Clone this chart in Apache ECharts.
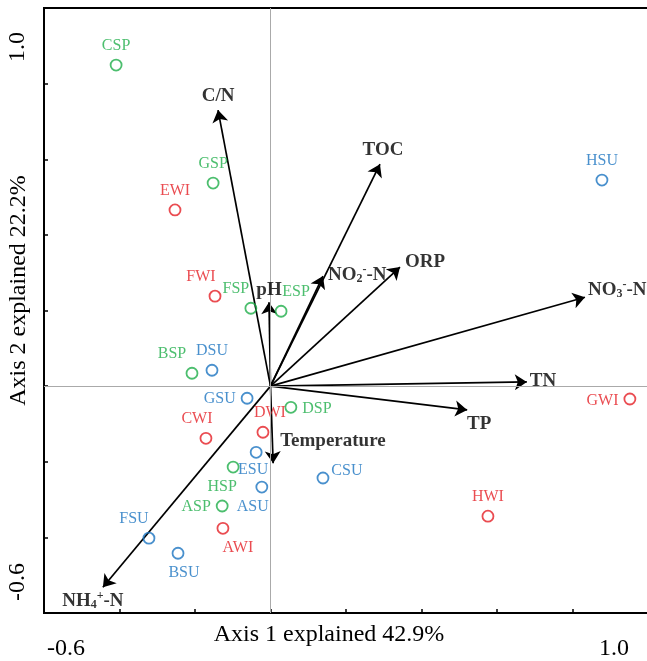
<!DOCTYPE html>
<html><head><meta charset="utf-8">
<script src="https://cdn.jsdelivr.net/npm/echarts@6/dist/echarts.min.js"></script>
<style>html,body{margin:0;padding:0;background:#fff}#c{width:647px;height:661px}</style>
</head><body><div id="c"></div>
<script>
// ---- data ----
const siteNames = ['CSP','GSP','EWI','FWI','FSP','ESP','BSP','DSU','HSU','GWI','GSU','DSP','CWI','DWI','ESU','HSP','ASP','ASU','AWI','CSU','FSU','BSU','HWI'];
const siteX = [-0.409,-0.152,-0.253,-0.147,-0.052,0.028,-0.208,-0.155,0.878,0.952,-0.062,0.054,-0.171,-0.020,-0.038,-0.099,-0.128,-0.023,-0.126,0.139,-0.322,-0.245,0.576];
const siteY = [0.849,0.537,0.466,0.238,0.206,0.198,0.034,0.042,0.545,-0.034,-0.032,-0.056,-0.138,-0.122,-0.175,-0.214,-0.317,-0.267,-0.376,-0.243,-0.402,-0.442,-0.344];
const siteGroup = ['SP','SP','WI','WI','SP','SP','SP','SU','SU','WI','SU','SP','WI','WI','SU','SP','SP','SU','WI','SU','SU','SU','WI'];
const groups = ['SP','WI','SU'];

const envNames = ['C/N','TOC','ORP','NO2-N','pH','NO3-N','TN','TP','Temperature','NH4-N'];
const envX = [-0.139,0.290,0.343,0.139,-0.004,0.833,0.679,0.521,0.007,-0.444];
const envY = [0.730,0.587,0.315,0.291,0.222,0.235,0.011,-0.063,-0.204,-0.532];

const axisMin = -0.6, axisMax = 1.0, axisStep = 0.2;
const xTickLabels = ['-0.6','1.0'];
const yTickLabels = ['-0.6','1.0'];
const xTitle = 'Axis 1 explained 42.9%';
const yTitle = 'Axis 2 explained 22.2%';

// ---- styles ----
const FONT = "'Liberation Serif','Times New Roman',serif";
const groupColor = {SP:'#1fae4a', WI:'#e51f25', SU:'#1c74c0'};
const siteLabelPlace = {
  CSP:['top',0,0], GSP:['top',0,0], EWI:['top',0,0], FWI:['top',-14,0], FSP:['top',-15,0],
  ESP:['top',15,0], BSP:['top',-20,0], DSU:['top',0,0], HSU:['top',0,0], GWI:['left',0,2],
  GSU:['left',0,1], DSP:['right',0,1], CWI:['top',-9,0], DWI:['top',7,0], ESU:['bottom',-3,-2],
  HSP:['bottom',-11,0], ASP:['left',0,1], ASU:['bottom',-9,0], AWI:['bottom',15,0],
  CSU:['right',-3,-7], FSU:['top',-15,0], BSU:['bottom',6,0], HWI:['top',0,0]
};
const envLabelPlace = {
  'C/N':['top',0,0], 'TOC':['top',3,0], 'ORP':['right',0,-5], 'NO2-N':['right',0,-1],
  'pH':['top',0,2], 'NO3-N':['right',-2,-7], 'TN':['right',-2,-1], 'TP':['bottom',12,0],
  'Temperature':['right',2,-22], 'NH4-N':['bottom',-10,-2]
};
const envRich = {
  'NO2-N':'{b|NO}{sub|2}{sup|-}{b|-N}',
  'NO3-N':'{b|NO}{sub|3}{sup|-}{b|-N}',
  'NH4-N':'{b|NH}{sub|4}{sup|+}{b|-N}'
};
const near = (a,b) => Math.abs(a-b) < 1e-6;

const series = [];
// zero reference lines + arrows
series.push({
  type:'lines', coordinateSystem:'cartesian2d', z:3, silent:true,
  symbol:['none','arrow'], symbolSize:12,
  lineStyle:{color:'#000', width:1.7, opacity:1},
  data: envX.map((x,i)=>({coords:[[0,0],[x, envY[i]]]})),
  markLine:{silent:true, symbol:'none', label:{show:false},
    lineStyle:{color:'#aaaaaa', width:1, type:'solid'},
    data:[{xAxis:0},{yAxis:0}]}
});
// arrow labels
series.push({
  type:'scatter', symbolSize:0, silent:true, z:5,
  data: envX.map((x,i)=>{
    const n = envNames[i], p = envLabelPlace[n];
    return {value:[x, envY[i]], label:{show:true, position:p[0], offset:[p[1],p[2]], distance:5,
      formatter: envRich[n] || ('{b|'+n+'}')}};
  }),
  label:{rich:{
    b:{fontFamily:FONT, fontWeight:'bold', fontSize:19, color:'#000'},
    sub:{fontFamily:FONT, fontWeight:'bold', fontSize:12, color:'#000', padding:[8,0,0,0]},
    sup:{fontFamily:FONT, fontWeight:'bold', fontSize:12, color:'#000', padding:[0,0,10,0]}
  }}
});
// site points by group
groups.forEach(g=>{
  const data = [];
  siteNames.forEach((n,i)=>{
    if (siteGroup[i] !== g) return;
    const p = siteLabelPlace[n];
    data.push({name:n, value:[siteX[i], siteY[i]], label:{position:p[0], offset:[p[1],p[2]]}});
  });
  series.push({
    type:'scatter', z:4, symbol:'circle', symbolSize:11,
    itemStyle:{color:'rgba(0,0,0,0)', borderColor:groupColor[g], borderWidth:1.8},
    label:{show:true, formatter:'{b}', distance:5, fontFamily:FONT, fontSize:16, color:groupColor[g]},
    data
  });
});

const chart = echarts.init(document.getElementById('c'), null, {renderer:'canvas'});
chart.setOption({
  animation:false,
  backgroundColor:'#fff',
  grid:{left:44, top:8, width:604, height:605, show:true, borderColor:'#000', borderWidth:2, outerBoundsMode:'none'},
  xAxis:{
    type:'value', min:axisMin, max:axisMax, interval:axisStep,
    name:xTitle, nameLocation:'middle', nameGap:10, nameMoveOverlap:false,
    nameTextStyle:{fontFamily:FONT, fontSize:24, color:'#000', padding:[0,34,0,0]},
    axisLine:{show:true, onZero:false, lineStyle:{color:'#000', width:2}},
    axisTick:{show:true, inside:true, length:4, lineStyle:{color:'#000', width:1.5}},
    splitLine:{show:false},
    axisLabel:{margin:24, showMinLabel:true, showMaxLabel:true, hideOverlap:false,
      formatter:v=> near(v,axisMin) ? '{l|'+xTickLabels[0]+'}' : near(v,axisMax) ? '{r|'+xTickLabels[1]+'}' : '',
      rich:{
        l:{fontFamily:FONT, fontSize:24, color:'#000', padding:[0,0,0,44]},
        r:{fontFamily:FONT, fontSize:24, color:'#000', padding:[0,68,0,0]}
      }}
  },
  yAxis:{
    type:'value', min:axisMin, max:axisMax, interval:axisStep,
    name:yTitle, nameLocation:'middle', nameRotate:90, nameGap:13, nameMoveOverlap:false,
    nameTextStyle:{fontFamily:FONT, fontSize:24, color:'#000', padding:[0,0,0,40]},
    axisLine:{show:true, onZero:false, lineStyle:{color:'#000', width:2}},
    axisTick:{show:true, inside:true, length:4, lineStyle:{color:'#000', width:1.5}},
    splitLine:{show:false},
    axisLabel:{margin:14, rotate:90, showMinLabel:true, showMaxLabel:true, hideOverlap:false,
      formatter:v=> near(v,axisMin) ? '{l|'+yTickLabels[0]+'}' : near(v,axisMax) ? '{r|'+yTickLabels[1]+'}' : '',
      rich:{
        l:{fontFamily:FONT, fontSize:24, color:'#000', padding:[0,0,0,62]},
        r:{fontFamily:FONT, fontSize:24, color:'#000', padding:[0,78,0,0]}
      }}
  },
  series
});
</script></body></html>
